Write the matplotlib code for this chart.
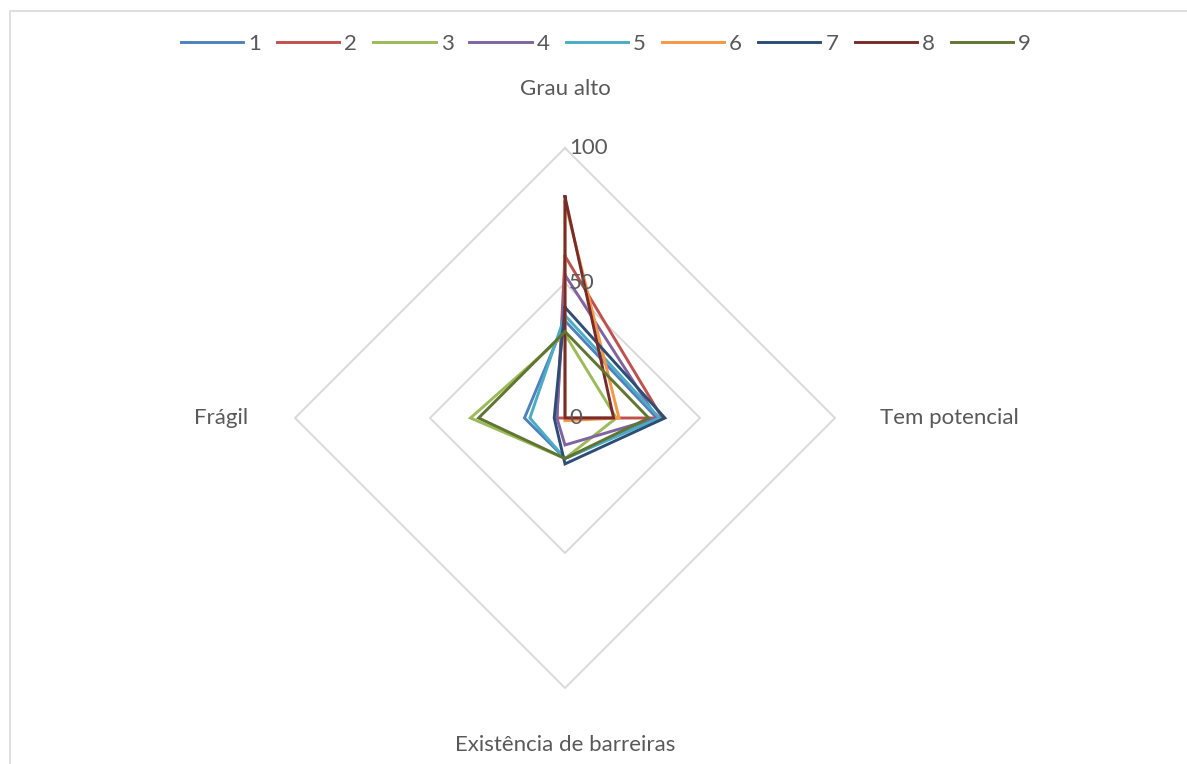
import numpy as np
import matplotlib
matplotlib.use("Agg")
import matplotlib.pyplot as plt
from matplotlib.lines import Line2D
from matplotlib.patches import Rectangle

plt.rcParams['font.family'] = ['Lato', 'DejaVu Sans']

# Radar axes (clockwise from top)
categories = ["Grau alto", "Tem potencial", "Existência de barreiras", "Frágil"]
series_names = ["1", "2", "3", "4", "5", "6", "7", "8", "9"]

s1 = [36, 34, 15, 15]
s2 = [60, 36, 0, 3]
s3 = [31, 19, 15, 35]
s4 = [53, 34, 10, 3]
s5 = [38, 35, 15, 13]
s6 = [80, 20, 1, 0]
s7 = [41, 37, 17, 4]
s8 = [82, 18, 0, 0]
s9 = [32, 31, 15, 32]
series_values = [s1, s2, s3, s4, s5, s6, s7, s8, s9]

grid_levels = [50, 100]
tick_labels = ["0", "50", "100"]
tick_values = [0, 50, 100]

colors = ["#4F81BD", "#C0504D", "#9BBB59", "#8064A2", "#4BACC6",
          "#F79646", "#2C4D75", "#772C2A", "#5F7530"]

W, H = 1187, 764
fig = plt.figure(figsize=(W / 100, H / 100), dpi=100)

cx, cy, R = 565, 418, 270
ax = fig.add_axes([(cx - R) / W, (H - cy - R) / H, 2 * R / W, 2 * R / H],
                  projection='polar')
ax.set_theta_zero_location('N')
ax.set_theta_direction(-1)
ax.set_ylim(0, 100)
ax.grid(False)
ax.set_xticks([])
ax.set_yticks([])
ax.spines['polar'].set_visible(False)
ax.patch.set_alpha(0)

theta = np.arange(len(categories)) * 2 * np.pi / len(categories)
theta_c = np.append(theta, theta[0])

# Diamond gridlines
for lvl in grid_levels:
    ax.plot(theta_c, [lvl] * len(theta_c), color="#d9d9d9", lw=1.4,
            zorder=1, clip_on=False)

# Series polygons
for vals, col in zip(series_values, colors):
    v = np.append(vals, vals[0])
    ax.plot(theta_c, v, color=col, lw=2.1, zorder=3, clip_on=False,
            solid_joinstyle='miter')

FS = 16
TXT = "#595959"

# Radial value labels along the top axis
for tv, tl in zip(tick_values, tick_labels):
    ax.annotate(tl, xy=(0, tv), xytext=(3, 0), textcoords='offset points',
                ha='left', va='center', fontsize=FS, color=TXT, zorder=5)

# Category labels
lab_kw = dict(fontsize=FS, color=TXT)
ax.text(theta[0], 122, categories[0], ha='center', va='center', **lab_kw)
ax.text(theta[1], 116.5, categories[1], ha='left', va='center', **lab_kw)
ax.text(theta[2], 121, categories[2], ha='center', va='center', **lab_kw)
ax.text(theta[3], 117.5, categories[3], ha='right', va='center', **lab_kw)

# Legend across the top
handles = [Line2D([0], [0], color=c, lw=2.1) for c in colors]
fig.legend(handles, series_names, loc='center', ncol=9,
           bbox_to_anchor=(606 / W, 1 - 44 / H), frameon=False,
           fontsize=FS, labelcolor=TXT, handlelength=2.8,
           handletextpad=0.23, columnspacing=0.72)

# Chart border
fig.add_artist(Rectangle((10 / W, -0.1), 1.2, 1.1 - 11 / H,
                         transform=fig.transFigure, fill=False,
                         edgecolor="#d9d9d9", lw=1.2))

fig.savefig("out.png", dpi=100)
